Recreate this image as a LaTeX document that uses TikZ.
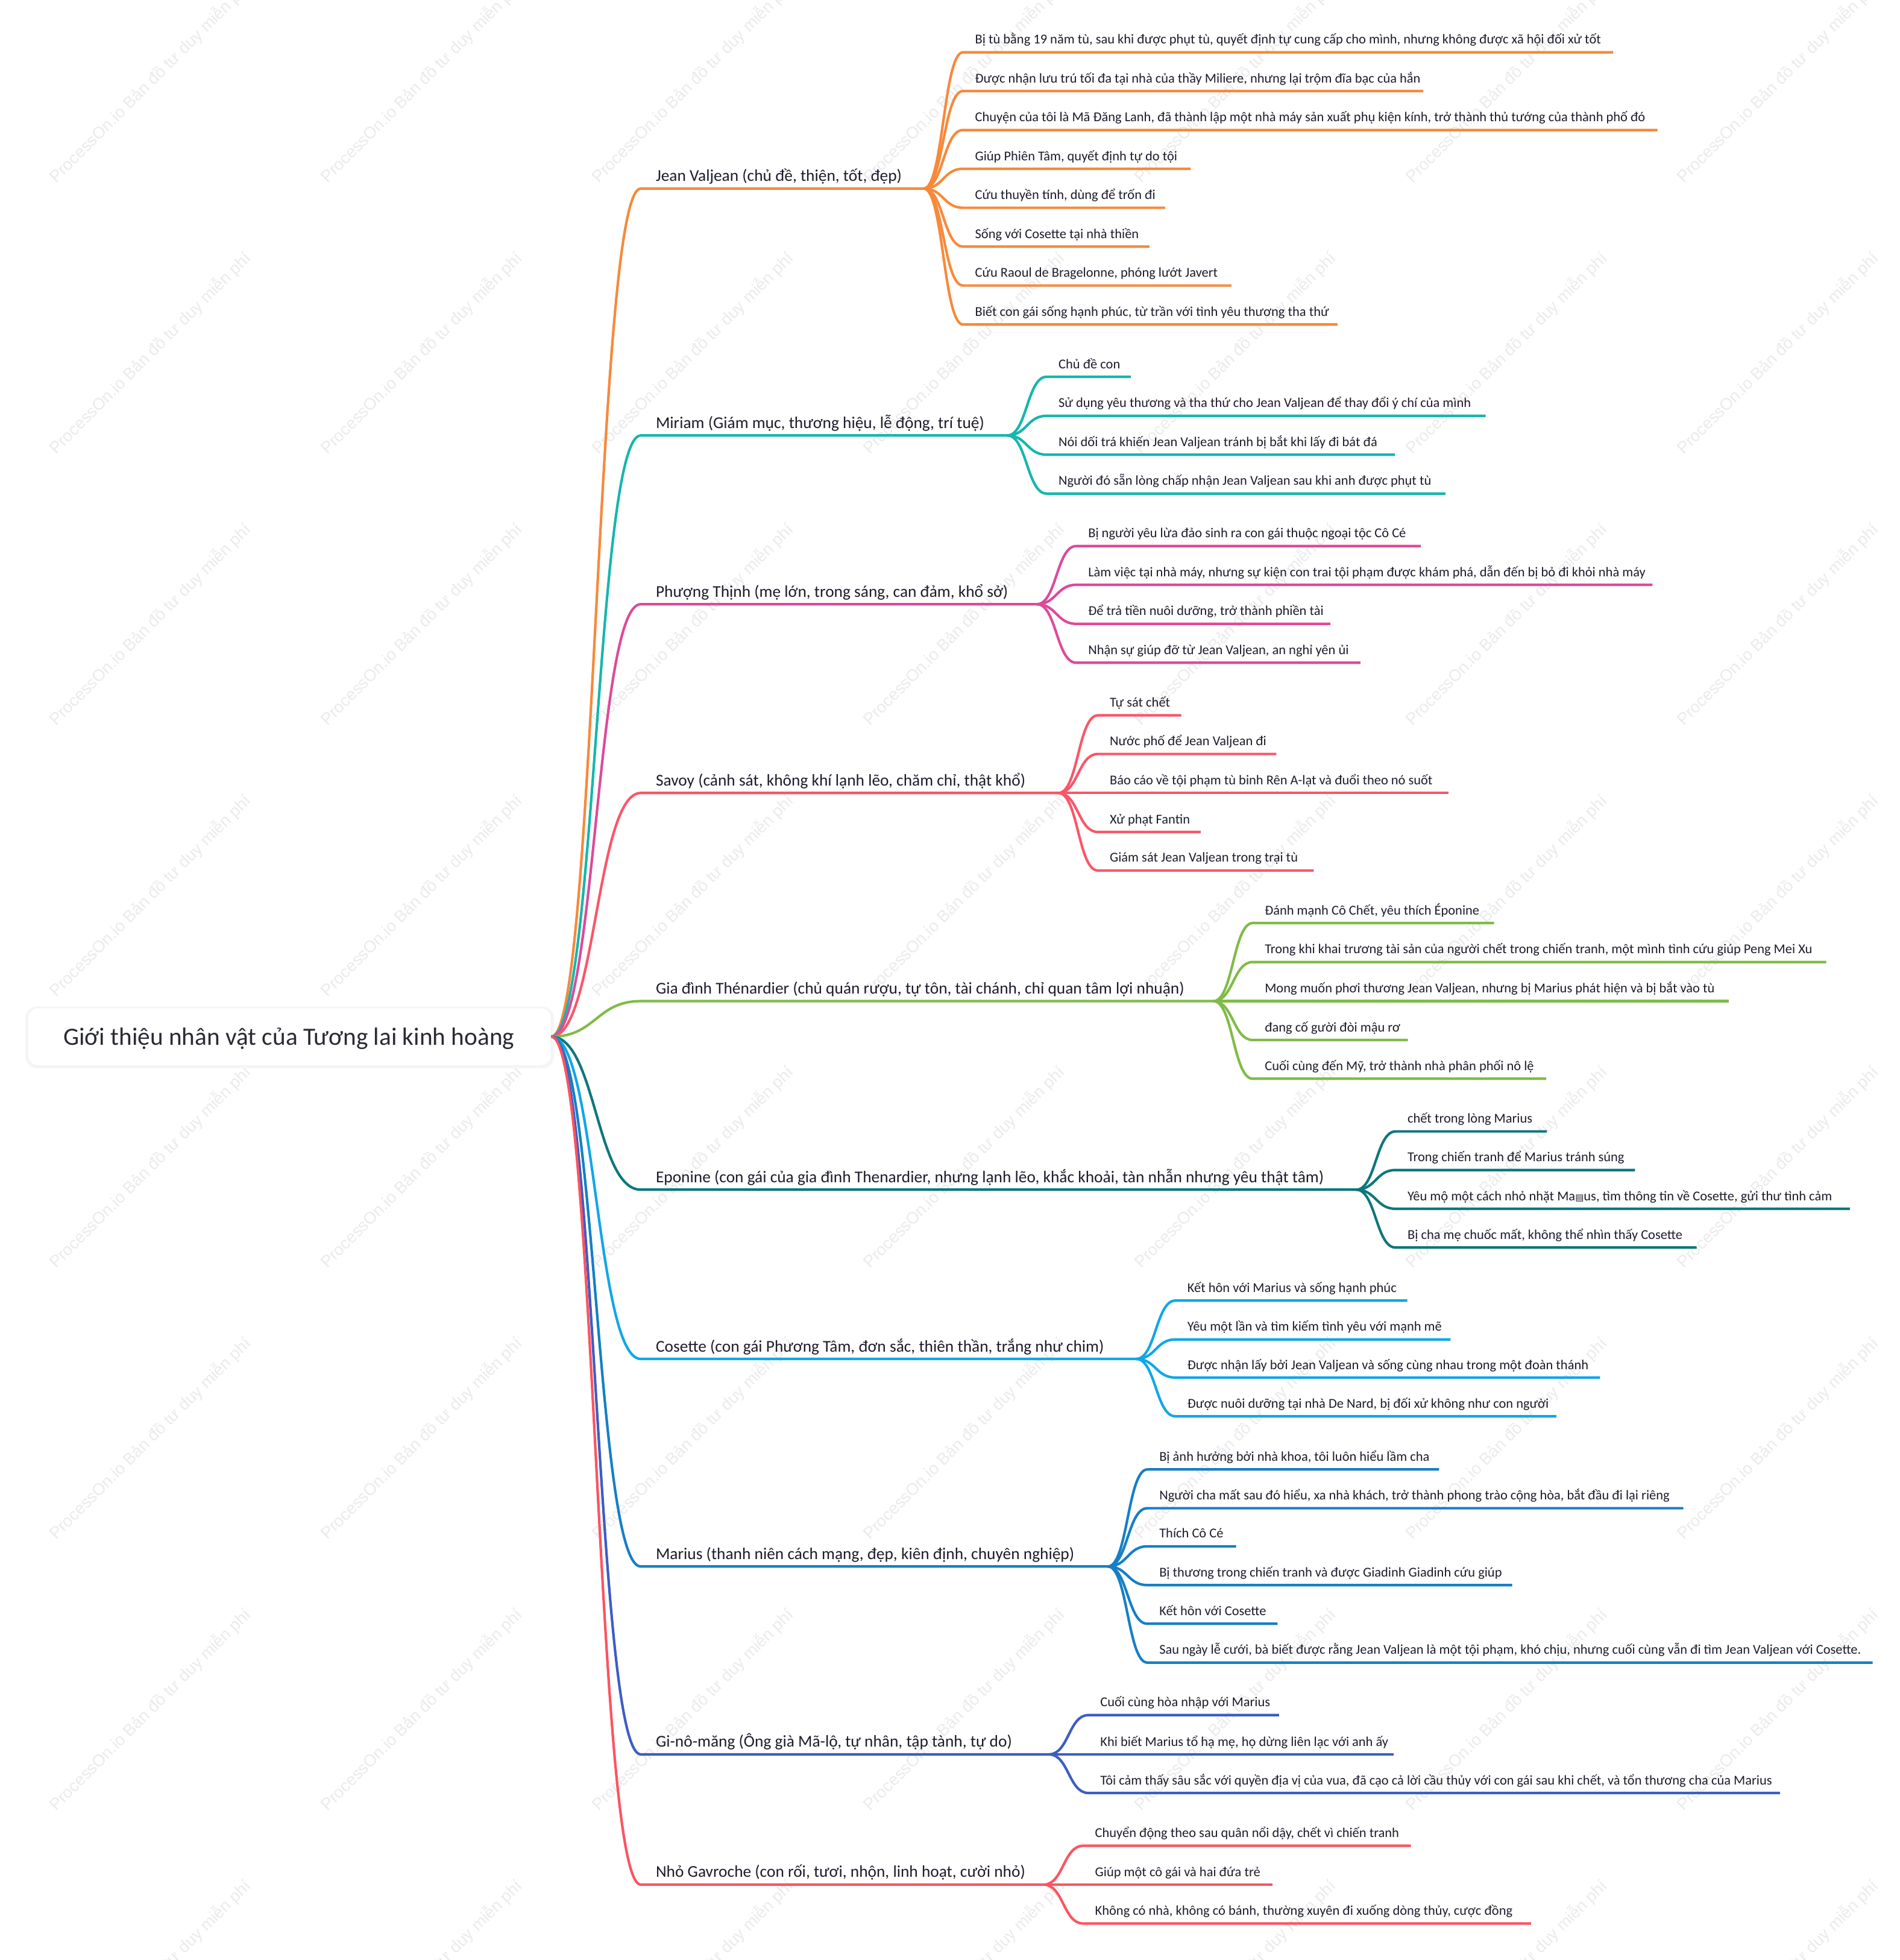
\documentclass[tikz,border=0pt]{standalone}
\usepackage{fontspec}
\setmainfont{Carlito}
\newfontfamily\wmfont{Liberation Sans}
\newfontfamily\djv{DejaVu Sans}
\usetikzlibrary{calc}
\definecolor{cJean}{HTML}{F7893B}
\definecolor{cMiriam}{HTML}{16B6AD}
\definecolor{cPhuong}{HTML}{DD4A9B}
\definecolor{cSavoy}{HTML}{FA5669}
\definecolor{cGia}{HTML}{80BB47}
\definecolor{cEpo}{HTML}{0E777B}
\definecolor{cCos}{HTML}{0FA7E8}
\definecolor{cMar}{HTML}{157FC5}
\definecolor{cGino}{HTML}{3E5DC3}
\definecolor{cGav}{HTML}{FB5461}
\definecolor{txt}{HTML}{1C1C2C}
\definecolor{rootc}{HTML}{2A2A33}
\tikzset{
  branch/.style={draw=#1, line width=4.2pt, line join=round},
  maintext/.style={inner sep=0pt, anchor=base west, text=txt, font=\fontsize{27.4}{31}\selectfont},
  subtext/.style={inner sep=0pt, anchor=base west, text=txt, font=\fontsize{22.45}{26}\selectfont},
  wm/.style={inner sep=0pt, anchor=base west, rotate=45, text=black!8, font=\wmfont\fontsize{27.5}{30}\selectfont},
  rootbox/.style={draw=black!7, fill=white, rounded corners=16pt, minimum width=868pt, minimum height=95pt, inner sep=0pt},
  roottext/.style={inner sep=0pt, anchor=base, text=rootc, font=\fontsize{41.3}{46}\selectfont},
}
\newcommand\mainbr[5]{%
  \def\curname{#1}\def\curjx{#3}\def\curcol{#4}%
  \coordinate (#1-s) at (512.6,#2);
  \coordinate (#1-j) at (#3,#2);
  \draw[branch=#4] (root.east) .. controls +(35.7,0) and +(-35.7,0) .. (#1-s) -- (#1-j);
  \node[maintext] (#1) at (524.6,#2-5.8) {#5};
}
\newcommand\subbr[4]{%
  \coordinate (#1-a) at (\curjx+31.5,#2);
  \coordinate (#1-b) at (#3,#2);
  \draw[branch=\curcol] (\curname-j) .. controls +(15.75,0) and +(-15.75,0) .. (#1-a) -- (#1-b);
  \node[subtext] (#1) at (\curjx+41,#2-6.7) {#4};
}
\begin{document}
\begin{tikzpicture}[x=2.0737pt, y=-2.0737pt]
\useasboundingbox (0,0) rectangle (1520,1567.8);
\fill[white] (0,0) rectangle (1520,1567.8);
% watermarks
\foreach \i in {0,...,6}{\foreach \j in {0,...,7}{
  \node[wm] (wm-\i-\j) at (45+217*\i,147+217*\j) {ProcessOn.io Bản đồ tư duy miễn phí};
}}
% root
\fill[black!4, rounded corners=20pt] (20.3,805) rectangle (443.2,854.6);
\node[rootbox] (root) at (231.7,829.2) {};
\node[roottext] (rootlabel) at (231.2,835.8) {Giới thiệu nhân vật của Tương lai kinh hoàng};

% Jean Valjean
\mainbr{jv}{150.8}{739}{cJean}{Jean Valjean (chủ đề, thiện, tốt, đẹp)}
\subbr{jv1}{41.8}{1290.5}{Bị tù bằng 19 năm tù, sau khi được phụt tù, quyết định tự cung cấp cho mình, nhưng không được xã hội đối xử tốt}
\subbr{jv2}{72.8}{1138.6}{Được nhận lưu trú tối đa tại nhà của thầy Miliere, nhưng lại trộm đĩa bạc của hắn}
\subbr{jv3}{104}{1326}{Chuyện của tôi là Mã Đăng Lanh, đã thành lập một nhà máy sản xuất phụ kiện kính, trở thành thủ tướng của thành phố đó}
\subbr{jv4}{135}{952.6}{Giúp Phiên Tâm, quyết định tự do tội}
\subbr{jv5}{166.2}{932.1}{Cứu thuyền tính, dùng để trốn đi}
\subbr{jv6}{197.2}{919.6}{Sống với Cosette tại nhà thiền}
\subbr{jv7}{228.4}{985.2}{Cứu Raoul de Bragelonne, phóng lướt Javert}
\subbr{jv8}{259.6}{1070.1}{Biết con gái sống hạnh phúc, từ trần với tình yêu thương tha thứ}

% Miriam
\mainbr{mi}{348.3}{805.8}{cMiriam}{Miriam (Giám mục, thương hiệu, lễ động, trí tuệ)}
\subbr{mi1}{301.4}{904.7}{Chủ đề con}
\subbr{mi2}{332.6}{1188.5}{Sử dụng yêu thương và tha thứ cho Jean Valjean để thay đổi ý chí của mình}
\subbr{mi3}{363.7}{1116}{Nói dối trá khiến Jean Valjean tránh bị bắt khi lấy đi bát đá}
\subbr{mi4}{394.8}{1156.4}{Người đó sẵn lòng chấp nhận Jean Valjean sau khi anh được phụt tù}

% Phuong Thinh
\mainbr{pt}{483.3}{829.5}{cPhuong}{Phượng Thịnh (mẹ lớn, trong sáng, can đảm, khổ sở)}
\subbr{pt1}{436.8}{1136.7}{Bị người yêu lừa đảo sinh ra con gái thuộc ngoại tộc Cô Cé}
\subbr{pt2}{467.8}{1322}{Làm việc tại nhà máy, nhưng sự kiện con trai tội phạm được khám phá, dẫn đến bị bỏ đi khỏi nhà máy}
\subbr{pt3}{499}{1064.3}{Để trả tiền nuôi dưỡng, trở thành phiền tài}
\subbr{pt4}{530.1}{1088.4}{Nhận sự giúp đỡ từ Jean Valjean, an nghỉ yên ủi}

% Savoy
\mainbr{sv}{634.3}{846.8}{cSavoy}{Savoy (cảnh sát, không khí lạnh lẽo, chăm chỉ, thật khổ)}
\subbr{sv1}{572.2}{945}{Tự sát chết}
\subbr{sv2}{603.1}{1021.1}{Nước phố để Jean Valjean đi}
\subbr{sv3}{634.3}{1158.8}{Báo cáo về tội phạm tù binh Rên A-lạt và đuổi theo nó suốt}
\subbr{sv4}{665.5}{960.6}{Xử phạt Fantin}
\subbr{sv5}{696.3}{1051}{Giám sát Jean Valjean trong trại tù}

% Gia dinh
\mainbr{gd}{800.8}{970.8}{cGia}{Gia đình Thénardier (chủ quán rượu, tự tôn, tài chánh, chỉ quan tâm lợi nhuận)}
\subbr{gd1}{738.3}{1195.3}{Đánh mạnh Cô Chết, yêu thích Éponine}
\subbr{gd2}{769.5}{1461}{Trong khi khai trương tài sản của người chết trong chiến tranh, một mình tình cứu giúp Peng Mei Xu}
\subbr{gd3}{800.8}{1382.9}{Mong muốn phơi thương Jean Valjean, nhưng bị Marius phát hiện và bị bắt vào tù}
\subbr{gd4}{831.9}{1126.4}{đang cố gười đòi mậu rơ}
\subbr{gd5}{862.9}{1237}{Cuối cùng đến Mỹ, trở thành nhà phân phối nô lệ}

% Eponine
\mainbr{ep}{951.6}{1085}{cEpo}{Eponine (con gái của gia đình Thenardier, nhưng lạnh lẽo, khắc khoải, tàn nhẫn nhưng yêu thật tâm)}
\subbr{ep1}{905}{1237.5}{chết trong lòng Marius}
\subbr{ep2}{935.9}{1308}{Trong chiến tranh để Marius tránh súng}
\subbr{ep3}{966.9}{1480}{Yêu mộ một cách nhỏ nhặt Ma{\djv\fontsize{15}{18}\selectfont ▤}us, tìm thông tin về Cosette, gửi thư tình cảm}
\subbr{ep4}{997.9}{1357.4}{Bị cha mẹ chuốc mất, không thể nhìn thấy Cosette}

% Cosette
\mainbr{co}{1087}{908.9}{cCos}{Cosette (con gái Phương Tâm, đơn sắc, thiên thần, trắng như chim)}
\subbr{co1}{1040.3}{1125.9}{Kết hôn với Marius và sống hạnh phúc}
\subbr{co2}{1071.4}{1160.5}{Yêu một lần và tìm kiếm tình yêu với mạnh mẽ}
\subbr{co3}{1101.9}{1280.1}{Được nhận lấy bởi Jean Valjean và sống cùng nhau trong một đoàn thánh}
\subbr{co4}{1132.9}{1245.1}{Được nuôi dưỡng tại nhà De Nard, bị đối xử không như con người}

% Marius
\mainbr{ma}{1253}{886.4}{cMar}{Marius (thanh niên cách mạng, đẹp, kiên định, chuyên nghiệp)}
\subbr{ma1}{1175.4}{1151.3}{Bị ảnh hưởng bởi nhà khoa, tôi luôn hiểu lầm cha}
\subbr{ma2}{1206.4}{1346.7}{Người cha mất sau đó hiểu, xa nhà khách, trở thành phong trào cộng hòa, bắt đầu đi lại riêng}
\subbr{ma3}{1236.9}{988.9}{Thích Cô Cé}
\subbr{ma4}{1267.9}{1209.8}{Bị thương trong chiến tranh và được Giadinh Giadinh cứu giúp}
\subbr{ma5}{1298.8}{1022}{Kết hôn với Cosette}
\subbr{ma6}{1329.9}{1498.2}{Sau ngày lễ cưới, bà biết được rằng Jean Valjean là một tội phạm, khó chịu, nhưng cuối cùng vẫn đi tìm Jean Valjean với Cosette.}

% Gi-no-mang
\mainbr{gn}{1403.3}{839.2}{cGino}{Gi-nô-măng (Ông già Mã-lộ, tự nhân, tập tành, tự do)}
\subbr{gn1}{1371.9}{1023.3}{Cuối cùng hòa nhập với Marius}
\subbr{gn2}{1403.3}{1115.1}{Khi biết Marius tổ hạ mẹ, họ dừng liên lạc với anh ấy}
\subbr{gn3}{1434.2}{1424}{Tôi cảm thấy sâu sắc với quyền địa vị của vua, đã cạo cả lời cầu thủy với con gái sau khi chết, và tổn thương cha của Marius}

% Gavroche
\mainbr{gv}{1507.5}{835}{cGav}{Nhỏ Gavroche (con rối, tươi, nhộn, linh hoạt, cười nhỏ)}
\subbr{gv1}{1476.4}{1128.8}{Chuyển động theo sau quân nổi dậy, chết vì chiến tranh}
\subbr{gv2}{1507.5}{1018}{Giúp một cô gái và hai đứa trẻ}
\subbr{gv3}{1538.6}{1224.8}{Không có nhà, không có bánh, thường xuyên đi xuống dòng thủy, cược đồng}
\end{tikzpicture}
\end{document}
